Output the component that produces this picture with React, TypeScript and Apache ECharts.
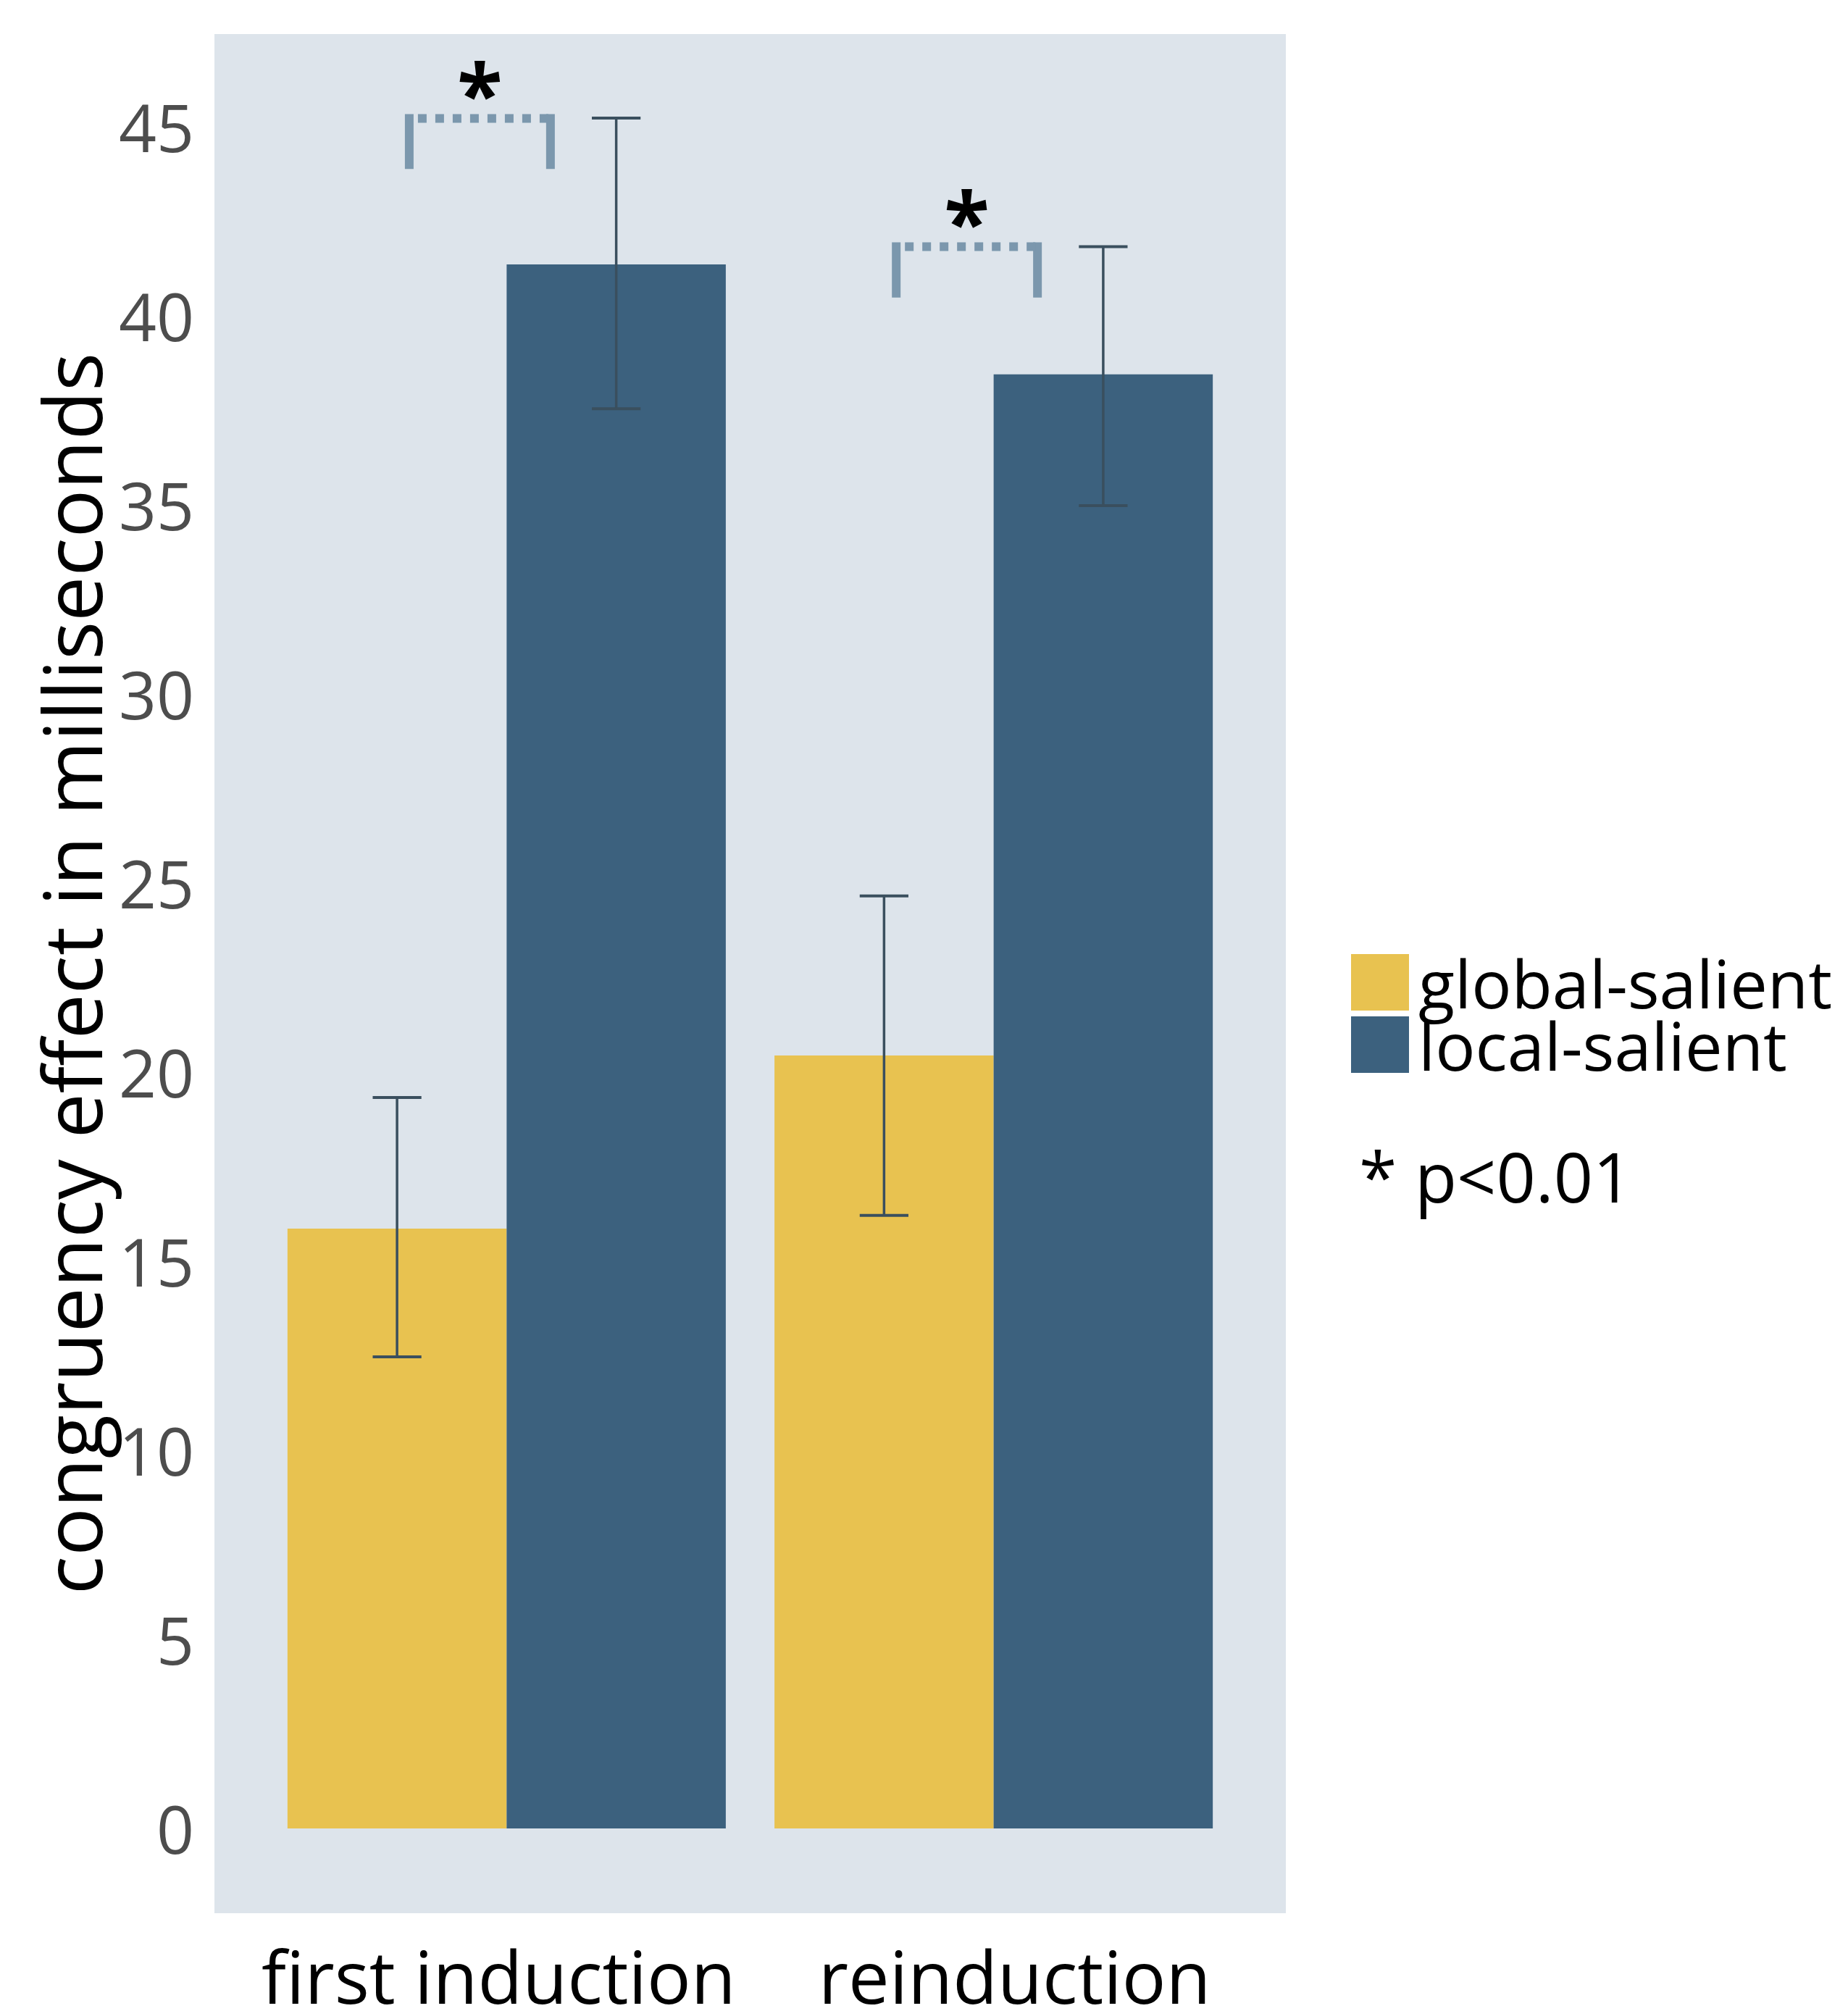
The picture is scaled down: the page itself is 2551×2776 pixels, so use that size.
import React, { useEffect, useRef } from 'react';
import * as echarts from 'echarts';

// ---- data ----
const categories = ['first induction', 'reinduction'];
const seriesNames = ['global-salient', 'local-salient'];
const globalMeans = [15.86, 20.44];
const localMeans = [41.36, 38.45];
const globalLow = [12.47, 16.21];
const globalHigh = [19.33, 24.66];
const localLow = [37.54, 34.98];
const localHigh = [45.23, 41.83];
const yTicks = [0, 5, 10, 15, 20, 25, 30, 35, 40, 45];
// significance brackets (x in category units, y in ms)
const bracketStart = [0.8, 1.8];
const bracketEnd = [1.09, 2.09];
const bracketTop = [45.22, 41.83];
const bracketFoot = [43.88, 40.48];
const bracketMark = ['*', '*'];
const noteText = '* p<0.01';
const yTitle = 'congruency effect in milliseconds';

const FONT = '"Open Sans", "Noto Sans", sans-serif';
const YELLOW = '#E8C250';
const BLUE = '#3C617E';
const PANEL = '#DDE4EB';
const ERR = '#3A4F5E';
const BRACKET = '#7B97AD';
const DODGE = 0.225; // half of bar width in category units
const CAP = 0.05;

export default function App() {
  const ref = useRef<HTMLDivElement>(null);
  useEffect(() => {
    document.body.style.margin = '0';
    document.body.style.overflow = 'hidden';
    const chart = echarts.init(ref.current!, null, { renderer: 'svg' });

    const pos = categories.map((_, i) => i + 1);
    const errData: number[][] = [];
    pos.forEach((p, i) => {
      errData.push([p - DODGE, globalLow[i], globalHigh[i]]);
      errData.push([p + DODGE, localLow[i], localHigh[i]]);
    });
    const bracketData = bracketStart.map((s, i) => [s, bracketEnd[i], bracketTop[i], bracketFoot[i], i]);

    chart.setOption({
      animation: false,
      textStyle: { fontFamily: FONT },
      grid: {
        left: 296, top: 47, width: 1479, height: 2594,
        show: true, backgroundColor: PANEL, borderWidth: 0,
        containLabel: false, outerBoundsMode: 'none',
      },
      xAxis: {
        type: 'value', min: 0.4, max: 2.6,
        axisLine: { show: false }, axisTick: { show: false }, splitLine: { show: false },
        axisLabel: {
          customValues: pos,
          formatter: (v: number) => {
            const i = Math.round(v) - 1;
            return `{c${i}|${categories[i] ?? ''}}`;
          },
          fontSize: 101, lineHeight: 60, color: '#000', fontFamily: FONT, margin: 56,
          rich: {
            c0: { fontSize: 101, lineHeight: 60, color: '#000', fontFamily: FONT, padding: [0, 22, 0, 0] },
            c1: { fontSize: 101, lineHeight: 60, color: '#000', fontFamily: FONT, padding: [0, 0, 0, 58] },
          },
        },
      },
      yAxis: {
        type: 'value', min: -2.24, max: 47.45,
        axisLine: { show: false }, axisTick: { show: false }, splitLine: { show: false },
        axisLabel: {
          customValues: yTicks,
          fontSize: 91, color: '#4D4D4D', fontFamily: FONT, margin: 28,
        },
        name: yTitle, nameLocation: 'middle', nameRotate: 90, nameGap: 140,
        nameTextStyle: { fontSize: 111, color: '#000', fontFamily: FONT },
      },
      legend: {
        data: seriesNames, orient: 'vertical', left: 1865, top: 1310, padding: 0,
        itemWidth: 80, itemHeight: 78, itemGap: -6, icon: 'rect', selectedMode: false,
        textStyle: { fontSize: 92, lineHeight: 39, color: '#000', fontFamily: FONT, padding: [39, 0, 0, 8] },
      },
      graphic: [
        {
          type: 'text', left: 1876, top: 1575,
          style: { text: noteText, font: `95px ${FONT}`, fill: '#000' },
        },
      ],
      series: [
        {
          name: seriesNames[0], type: 'bar', barWidth: '45%', barGap: '0%',
          itemStyle: { color: YELLOW },
          data: pos.map((p, i) => [p, globalMeans[i]]),
        },
        {
          name: seriesNames[1], type: 'bar', barWidth: '45%', barGap: '0%',
          itemStyle: { color: BLUE },
          data: pos.map((p, i) => [p, localMeans[i]]),
        },
        {
          type: 'custom', name: 'error', encode: { x: 0, y: 1 }, z: 5,
          data: errData,
          renderItem: (params: any, api: any) => {
            const x = api.value(0), lo = api.value(1), hi = api.value(2);
            const pLo = api.coord([x, lo]);
            const pHi = api.coord([x, hi]);
            const l = api.coord([x - CAP, hi])[0];
            const r = api.coord([x + CAP, hi])[0];
            const st = { stroke: ERR, lineWidth: 4 };
            return {
              type: 'group', children: [
                { type: 'line', shape: { x1: pLo[0], y1: pLo[1], x2: pHi[0], y2: pHi[1] }, style: { stroke: ERR, lineWidth: 3.5 } },
                { type: 'line', shape: { x1: l, y1: pHi[1], x2: r, y2: pHi[1] }, style: st },
                { type: 'line', shape: { x1: l, y1: pLo[1], x2: r, y2: pLo[1] }, style: st },
              ],
            };
          },
        },
        {
          type: 'custom', name: 'brackets', encode: { x: 0, y: 2 }, z: 6, clip: false,
          data: bracketData,
          renderItem: (params: any, api: any) => {
            const a = api.coord([api.value(0), api.value(2)]);
            const b = api.coord([api.value(1), api.value(2)]);
            const af = api.coord([api.value(0), api.value(3)]);
            const bf = api.coord([api.value(1), api.value(3)]);
            const mark = bracketMark[api.value(4)];
            return {
              type: 'group', children: [
                { type: 'line', shape: { x1: a[0], y1: a[1] - 6, x2: af[0], y2: af[1] }, style: { stroke: BRACKET, lineWidth: 12 } },
                { type: 'line', shape: { x1: b[0], y1: b[1] - 6, x2: bf[0], y2: bf[1] }, style: { stroke: BRACKET, lineWidth: 12 } },
                { type: 'line', shape: { x1: a[0] + 12, y1: a[1], x2: b[0], y2: b[1] }, style: { stroke: BRACKET, lineWidth: 12, lineDash: [12, 12] } },
                {
                  type: 'text', x: (a[0] + b[0]) / 2, y: a[1] + 21,
                  style: { text: mark, font: `bold 115px ${FONT}`, fill: '#000', align: 'center', verticalAlign: 'bottom' },
                },
              ],
            };
          },
        },
      ],
    });
    return () => chart.dispose();
  }, []);
  return <div ref={ref} style={{ width: 2551, height: 2776 }} />;
}
